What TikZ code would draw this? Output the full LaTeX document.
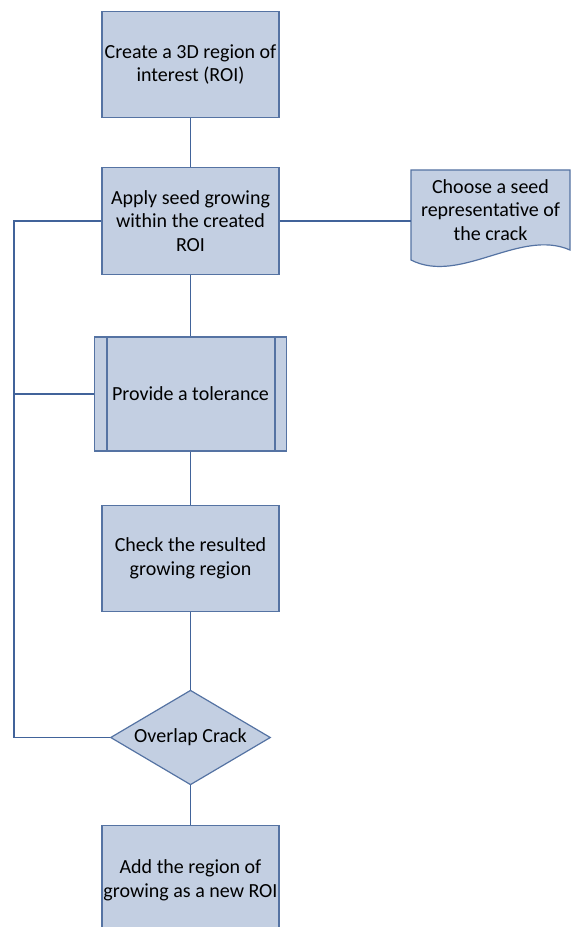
\documentclass[tikz,border=0pt]{standalone}
\usepackage{fontspec}
\setmainfont{Carlito}
\usepackage{xcolor}
\usepackage{tikz}
\usetikzlibrary{shapes.geometric}

\definecolor{boxfill}{HTML}{C3CFE2}
\definecolor{boxline}{HTML}{5573A3}
\definecolor{wire}{HTML}{41639A}

\begin{document}
\begin{tikzpicture}[x=0.75pt,y=-0.75pt,
  every node/.style={font=\fontsize{15}{17.8}\selectfont,align=center},
  stepbox/.style={draw=boxline,fill=boxfill,line width=0.9pt,minimum width=132.75pt,
    minimum height=80pt,inner sep=0pt},
  wire/.style={draw=wire,line width=0.8pt}]
\useasboundingbox (0,0) rectangle (571,927);
\begin{scope}
\clip (0,0) rectangle (571,927);
% main column
\node[stepbox] (roi) at (190.5,64.5) {Create a 3D region of\\interest (ROI)};
\node[stepbox] (grow) at (190.5,221) {Apply seed growing\\within the created\\ROI};
\node[stepbox,minimum width=144pt,minimum height=85.5pt] (tol) at (190.5,394) {Provide a tolerance};
\draw[boxline,line width=0.9pt] (107,337)--(107,451) (275,337)--(275,451);
\node[stepbox] (check) at (190.5,558.5) {Check the resulted\\growing region};
\node[diamond,draw=boxline,fill=boxfill,line width=0.9pt,aspect=1.7,minimum width=120pt,
  minimum height=71pt,inner sep=0pt] (overlap) at (190.5,737.5) {Overlap Crack};
\node[stepbox,minimum height=100pt,anchor=north] (add) at (190.5,825) {};
\node (addtext) at (190.5,880) {Add the region of\\growing as a new ROI};
% seed document on the right
\draw[draw=boxline,fill=boxfill,line width=0.9pt] (411,170)--(570,170)--(570,250)
  .. controls (520,228) and (460,285) .. (411,260)--cycle;
\node (seed) at (490.5,210) {Choose a seed\\representative of\\the crack};
\coordinate (seedin) at (411,221);
% connectors
\draw[wire] (roi)--(grow);
\draw[wire] (grow)--(tol);
\draw[wire] (tol)--(check);
\draw[wire] (check)--(overlap);
\draw[wire] (overlap)--(add);
\draw[wire] (grow.east)--(seedin);
\coordinate (loop) at (14,221);
\draw[wire] (overlap.west)-|(loop)--(grow.west);
\draw[wire] (14,394)--(tol.west);
\end{scope}
\end{tikzpicture}
\end{document}
